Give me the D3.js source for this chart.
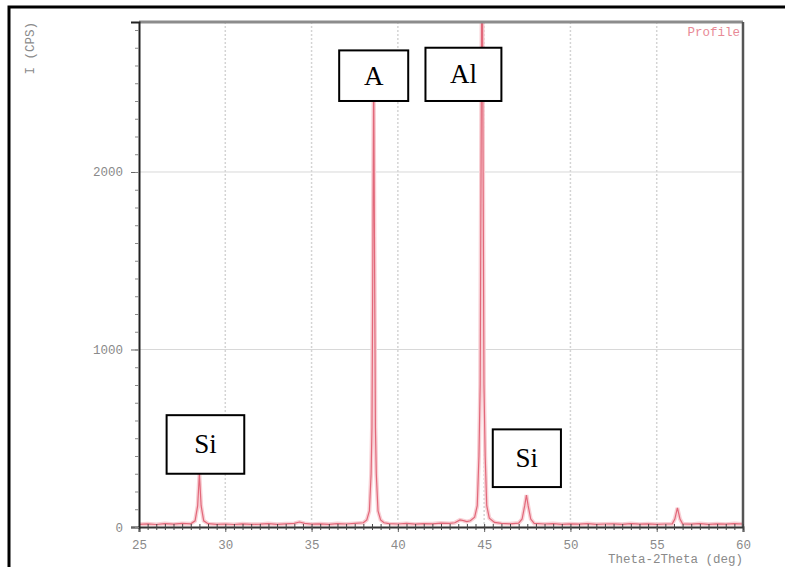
<!DOCTYPE html>
<html>
<head>
  <meta charset="UTF-8"/>
  <title>XRD Profile</title>
  <style>
    body { margin: 0; background: #fff; }
    .tick-label { font-family: 'Liberation Mono', monospace; font-size: 12.5px; fill: #8a8a8a; }
    .note { font-family: 'Liberation Serif', serif; font-size: 27px; fill: #000; }
  </style>
  <script src="https://d3js.org/d3.v7.min.js"></script>
</head>
<body>
<svg width="785" height="567"></svg>
<script>
// profile: [2theta (deg), intensity (CPS)]
var profile = [
  [25.0,15],[25.5,18],[26.0,14],[26.5,19],[27.0,16],[27.5,20],[28.0,18],
  [28.25,35],[28.4,120],[28.5,300],[28.6,120],[28.75,35],[29.0,19],
  [29.5,15],[30.0,17],[30.5,14],[31.0,18],[31.5,15],[32.0,16],[32.5,19],
  [33.0,15],[33.5,18],[34.0,20],[34.3,28],[34.6,20],[35.0,16],[35.5,18],
  [36.0,15],[36.5,19],[37.0,17],[37.5,20],[38.0,24],[38.2,40],[38.35,90],
  [38.45,300],[38.5,560],[38.55,1500],[38.6,2550],[38.65,1500],[38.7,560],
  [38.75,300],[38.85,90],[39.0,40],[39.2,24],[39.5,19],[40.0,17],[40.5,20],
  [41.0,16],[41.5,19],[42.0,18],[42.5,22],[43.0,20],[43.3,24],[43.6,40],
  [43.8,36],[44.0,30],[44.2,35],[44.45,55],[44.6,120],[44.7,400],[44.77,800],
  [44.82,2000],[44.88,3600],[44.94,2000],[44.99,800],[45.06,400],[45.15,120],
  [45.3,50],[45.6,26],[46.0,20],[46.5,18],[47.0,22],[47.2,45],[47.35,120],
  [47.45,180],[47.55,120],[47.7,45],[47.9,20],[48.5,17],[49.0,19],[49.5,15],
  [50.0,18],[50.5,16],[51.0,19],[51.5,15],[52.0,17],[52.5,18],[53.0,15],
  [53.5,19],[54.0,16],[54.5,18],[55.0,15],[55.5,17],[55.9,18],[56.05,45],
  [56.2,108],[56.35,45],[56.5,18],[57.0,16],[57.5,19],[58.0,15],[58.5,18],
  [59.0,16],[59.5,19],[60.0,17]
];

var xTicks = [25, 30, 35, 40, 45, 50, 55, 60];
var yTicks = [0, 1000, 2000];

// boxed labels: text and the box corners in data units (theta, CPS)
var notes = [
  {text: "Si", x0: 26.6, x1: 31.1, y0: 630, y1: 300},
  {text: "A",  x0: 36.6, x1: 40.6, y0: 2685, y1: 2400},
  {text: "Al", x0: 41.6, x1: 46.0, y0: 2700, y1: 2400},
  {text: "Si", x0: 45.5, x1: 49.45, y0: 550, y1: 225}
];

var svg = d3.select("svg");
var pLeft = 139, pRight = 743, pTop = 22, pBottom = 527;

var x = d3.scaleLinear().domain([25, 60]).range([pLeft, pRight]);
var y = d3.scaleLinear().domain([0, 2845]).range([pBottom, pTop]);

// outer black frame (cropped at right and bottom)
svg.append("rect")
  .attr("x", 9).attr("y", 7)
  .attr("width", 820).attr("height", 620)
  .attr("fill", "none").attr("stroke", "#000").attr("stroke-width", 3);

// grid
svg.append("g").selectAll("line")
  .data(xTicks.slice(1, -1))
  .enter().append("line")
    .attr("x1", function(d) { return x(d); }).attr("x2", function(d) { return x(d); })
    .attr("y1", pTop).attr("y2", pBottom)
    .attr("stroke", "#d4d4d4").attr("stroke-width", 1.5)
    .attr("stroke-dasharray", "2,2");

svg.append("g").selectAll("line")
  .data(yTicks.slice(1))
  .enter().append("line")
    .attr("x1", pLeft).attr("x2", pRight)
    .attr("y1", function(d) { return y(d); }).attr("y2", function(d) { return y(d); })
    .attr("stroke", "#d8d8d8").attr("stroke-width", 1);

// profile line
svg.append("clipPath").attr("id", "clip")
  .append("rect").attr("x", pLeft).attr("y", pTop)
  .attr("width", pRight - pLeft).attr("height", pBottom - pTop);

var line = d3.line()
  .x(function(d) { return x(d[0]); })
  .y(function(d) { return y(d[1]); });

svg.append("path")
  .datum(profile)
  .attr("clip-path", "url(#clip)")
  .attr("fill", "none")
  .attr("stroke", "#f8d0d5")
  .attr("stroke-width", 4)
  .attr("d", line);

svg.append("path")
  .datum(profile)
  .attr("clip-path", "url(#clip)")
  .attr("fill", "none")
  .attr("stroke", "#e2687a")
  .attr("stroke-width", 1.2)
  .attr("d", line);

// plot frame
svg.append("line").attr("x1", pLeft).attr("x2", pRight).attr("y1", pTop).attr("y2", pTop)
  .attr("stroke", "#8c8c8c").attr("stroke-width", 3);
svg.append("line").attr("x1", pRight).attr("x2", pRight).attr("y1", pTop).attr("y2", pBottom)
  .attr("stroke", "#555").attr("stroke-width", 2.5);

// x axis
var xAxis = svg.append("g")
  .attr("transform", "translate(0," + pBottom + ")")
  .call(d3.axisBottom(x).tickValues(xTicks).tickSize(5).tickPadding(8));
xAxis.select(".domain").attr("stroke", "#333").attr("stroke-width", 2);
xAxis.selectAll(".tick line").attr("stroke", "#666");
xAxis.selectAll("text").attr("class", "tick-label").attr("font-size", null).attr("font-family", null).attr("fill", null);

svg.append("g")
  .attr("transform", "translate(0," + (pBottom + 3) + ")")
  .call(d3.axisBottom(x).ticks(70).tickSize(6).tickFormat(""))
  .call(function(g) { g.select(".domain").remove(); })
  .selectAll(".tick line").attr("y1", -6).attr("y2", 0).attr("stroke", "#444");

// y axis
var yAxis = svg.append("g")
  .attr("transform", "translate(" + pLeft + ",0)")
  .call(d3.axisLeft(y).tickValues(yTicks).tickFormat(d3.format("d")).tickSize(8).tickPadding(8));
yAxis.select(".domain").attr("stroke", "#222").attr("stroke-width", 2);
yAxis.selectAll(".tick line").attr("stroke", "#666");
yAxis.selectAll("text").attr("class", "tick-label").attr("font-size", null).attr("font-family", null).attr("fill", null);

svg.append("g")
  .attr("transform", "translate(" + pLeft + ",0)")
  .call(d3.axisLeft(y).ticks(28).tickSize(4).tickFormat(""))
  .call(function(g) { g.select(".domain").remove(); })
  .selectAll(".tick line").attr("stroke", "#888");

// axis titles
svg.append("text")
  .attr("class", "tick-label")
  .attr("transform", "translate(34,22) rotate(-90)")
  .attr("text-anchor", "end")
  .text("I (CPS)");

svg.append("text")
  .attr("class", "tick-label")
  .attr("x", pRight).attr("y", 563)
  .attr("text-anchor", "end")
  .text("Theta-2Theta (deg)");

svg.append("text")
  .attr("class", "tick-label")
  .style("fill", "#e88a96")
  .attr("x", pRight - 3).attr("y", 36)
  .attr("text-anchor", "end")
  .text("Profile");

// boxed annotations
var note = svg.append("g").selectAll("g")
  .data(notes)
  .enter().append("g");

note.append("rect")
  .attr("x", function(d) { return x(d.x0); })
  .attr("y", function(d) { return y(d.y0); })
  .attr("width", function(d) { return x(d.x1) - x(d.x0); })
  .attr("height", function(d) { return y(d.y1) - y(d.y0); })
  .attr("fill", "#fff").attr("stroke", "#000").attr("stroke-width", 2);

note.append("text")
  .attr("class", "note")
  .attr("x", function(d) { return (x(d.x0) + x(d.x1)) / 2; })
  .attr("y", function(d) { return (y(d.y0) + y(d.y1)) / 2 + 9; })
  .attr("text-anchor", "middle")
  .text(function(d) { return d.text; });
</script>
</body>
</html>
